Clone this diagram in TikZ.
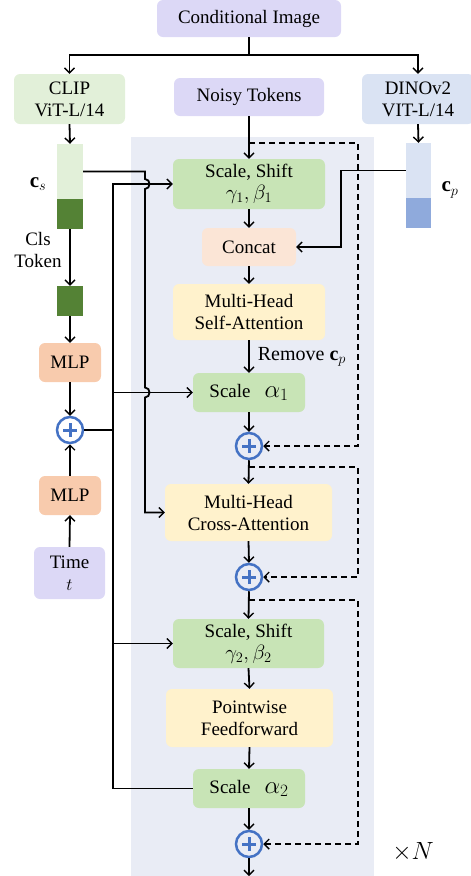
\documentclass[tikz,border=0pt]{standalone}
\usepackage{fontspec}
\setmainfont{Liberation Serif}
\usetikzlibrary{arrows.meta}
\definecolor{cpurple}{HTML}{DCD8F6}
\definecolor{cclip}{HTML}{E2F0D9}
\definecolor{cdino}{HTML}{DAE3F3}
\definecolor{cpanel}{HTML}{E9ECF5}
\definecolor{cgreen}{HTML}{C8E4B6}
\definecolor{cconcat}{HTML}{FBE5D6}
\definecolor{cyellow}{HTML}{FFF2CC}
\definecolor{cmlp}{HTML}{F8CBAD}
\definecolor{cdark}{HTML}{548235}
\definecolor{cpdark}{HTML}{8FAADC}
\definecolor{pblue}{HTML}{4472C4}
\begin{document}
\begin{tikzpicture}[x=1pt,y=-1pt,
  box/.style={rectangle, rounded corners=6pt, inner sep=0pt, align=center,
    font=\rmfamily\fontsize{19}{22}\selectfont},
  bar/.style={rectangle, inner sep=0pt, minimum width=26pt},
  arr/.style={line width=1.8pt, -{Straight Barb[length=5pt,width=10pt,line width=1.4pt]}},
  ln/.style={line width=1.8pt},
  darr/.style={line width=1.8pt, dash pattern=on 6pt off 4pt, -{Straight Barb[length=5pt,width=10pt,line width=1.4pt]}},
  plus/.style={circle, draw=pblue, line width=2.5pt, minimum size=26pt, inner sep=0pt,
    path picture={\draw[pblue, line width=3pt] (path picture bounding box.center) +(-7pt,0pt) -- +(7pt,0pt)
      (path picture bounding box.center) +(0pt,-7pt) -- +(0pt,7pt);}},
  lbl/.style={inner sep=0pt, font=\rmfamily\fontsize{19}{22}\selectfont, align=center}
]
\useasboundingbox (0,0) rectangle (471,876);
\fill[cpanel] (131,137) rectangle (374,876);

% top
\node[box, fill=cpurple, minimum width=184pt, minimum height=37pt] (cond) at (249,18.5) {Conditional Image};
\node[box, fill=cclip, minimum width=111pt, minimum height=50pt] (clip) at (69.5,99) {CLIP\\ViT-L/14};
\node[box, fill=cpurple, minimum width=150pt, minimum height=38pt] (noisy) at (249,97) {Noisy Tokens};
\node[box, fill=cdino, minimum width=112pt, minimum height=50pt] (dino) at (418,99) {DINOv2\\VIT-L/14};

% left column
\node[bar, fill=cclip, minimum height=55pt] (csA) at (70,171.5) {};
\node[bar, fill=cdark, minimum height=30pt] (csB) at (70,214) {};
\node[bar, fill=cdark, minimum height=30pt] (cls) at (70,301) {};
\node[lbl, font=\fontsize{21}{22}\selectfont] (cslabel) at (38,184) {$\mathbf{c}_s$};
\node[lbl] (clstok) at (38,250) {Cls\\Token};
\node[box, fill=cmlp, minimum width=62pt, minimum height=39pt] (mlp1) at (70,362.5) {MLP};
\node[plus] (plus0) at (70,430) {};
\node[box, fill=cmlp, minimum width=62pt, minimum height=39pt] (mlp2) at (70,495.5) {MLP};
\node[box, fill=cpurple, minimum width=71pt, minimum height=52pt] (time) at (69.5,573) {Time\\$t$};

% right bars
\node[bar, fill=cdino, minimum width=25pt, minimum height=55pt] (cpA) at (418.5,170.5) {};
\node[bar, fill=cpdark, minimum width=25pt, minimum height=30pt] (cpB) at (418.5,213) {};
\node[lbl, font=\fontsize{21}{22}\selectfont] (cplabel) at (450,190) {$\mathbf{c}_p$};

% main column
\node[box, fill=cgreen, minimum width=152pt, minimum height=50pt] (g1) at (249,184) {Scale, Shift\\{\fontsize{22}{22}\selectfont$\gamma_1,\beta_1$}};
\node[box, fill=cconcat, minimum width=94pt, minimum height=38pt] (concat) at (249,247) {Concat};
\node[box, fill=cyellow, minimum width=152pt, minimum height=56pt] (mhsa) at (249,312) {Multi-Head\\Self-Attention};
\node[box, fill=cgreen, minimum width=112pt, minimum height=39pt] (a1) at (249,392.5) {Scale\hspace{14pt}{\fontsize{27}{27}\selectfont$\alpha_1$}};
\node[plus] (plus1) at (249,446) {};
\node[box, fill=cyellow, minimum width=167pt, minimum height=57pt] (mhca) at (248.5,512.5) {Multi-Head\\Cross-Attention};
\node[plus] (plus2) at (249,577) {};
\node[box, fill=cgreen, minimum width=151pt, minimum height=49pt] (g2) at (248.5,643.5) {Scale, Shift\\{\fontsize{22}{22}\selectfont$\gamma_2,\beta_2$}};
\node[box, fill=cyellow, minimum width=167pt, minimum height=58pt] (ff) at (249.5,718) {Pointwise\\Feedforward};
\node[box, fill=cgreen, minimum width=112pt, minimum height=39pt] (a2) at (249,788.5) {Scale\hspace{14pt}{\fontsize{27}{27}\selectfont$\alpha_2$}};
\node[plus] (plus3) at (249,844) {};
\node[lbl, font=\fontsize{29}{29}\selectfont] (timesN) at (413,852) {$\times N$};
\coordinate (out) at (249,876);

% top connectors
\draw[arr] (cond.south) -- ++(0,18) -| (clip.north);
\draw[arr] (cond.south) -- ++(0,18) -| (dino.north);
\draw[arr] (clip.south) -- (csA.north);
\draw[arr] (dino.south) -- (cpA.north);
\draw[arr] (csB.south) -- (cls.north);
\draw[arr] (cls.south) -- (mlp1.north);
\draw[arr] (mlp1.south) -- (plus0.north);
\draw[arr] (time.north) -- (mlp2.south);
\draw[arr] (mlp2.north) -- (plus0.south);

% bus from plus0
\coordinate (bus) at (113,184);
\draw[ln] (plus0.east) -- (plus0.east -| bus);
\draw[arr] (a2.west) -| (bus) -- (g1.west);
\draw[arr] (a1.west -| bus) -- (a1.west);
\draw[arr] (g2.west -| bus) -- (g2.west);

% c_s line with hops
\draw[arr] (csA.east) -- (145,171.5) -- (145,179)
  .. controls (151,179) and (151,189) .. (145,189) -- (145,387.5)
  .. controls (151,387.5) and (151,397.5) .. (145,397.5) -- (145,512.5) -- (mhca.west);

% c_p line
\draw[arr] (cpA.west) -- (341,170.5) |- (concat.east);

% main chain
\draw[arr] (noisy.south) -- (g1.north);
\draw[arr] (g1.south) -- (concat.north);
\draw[arr] (concat.south) -- (mhsa.north);
\draw[arr] (mhsa.south) -- node[lbl, anchor=west, xshift=8pt, font=\rmfamily\fontsize{20}{22}\selectfont] (rem) {Remove $\mathbf{c}_p$} (a1.north);
\draw[arr] (a1.south) -- (plus1.north);
\draw[arr] (plus1.south) -- (mhca.north);
\draw[arr] (mhca.south) -- (plus2.north);
\draw[arr] (plus2.south) -- (g2.north);
\draw[arr] (g2.south) -- (ff.north);
\draw[arr] (ff.south) -- (a2.north);
\draw[arr] (a2.south) -- (plus3.north);
\draw[arr] (plus3.south) -- (out);

% residual dashed
\coordinate (r1) at (249,143);
\coordinate (r2) at (249,467);
\coordinate (r3) at (249,600);
\draw[darr] (r1) -- (358,143) |- (plus1.east);
\draw[darr] (r2) -- (358,467) |- (plus2.east);
\draw[darr] (r3) -- (358,600) |- (plus3.east);
\end{tikzpicture}
\end{document}
